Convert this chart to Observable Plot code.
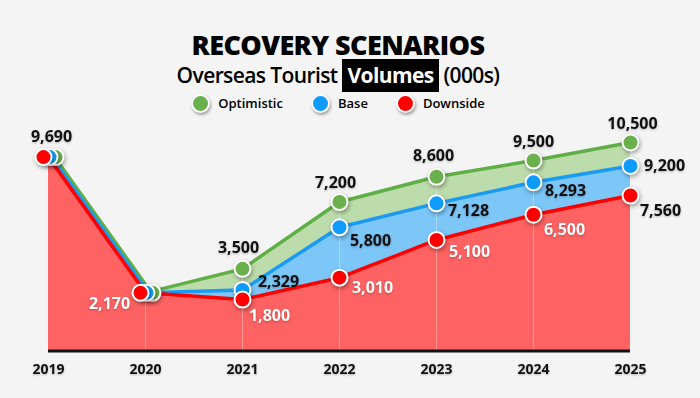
<!DOCTYPE html>
<html><head><meta charset="utf-8">
<script src="https://cdn.jsdelivr.net/npm/d3@7"></script>
<script src="https://cdn.jsdelivr.net/npm/@observablehq/plot@0.6"></script>
<style>
body{margin:0;background:#f4f4f4;font-family:"Open Sans",sans-serif;}
#wrap{width:700px;height:398px;position:relative;overflow:hidden;background:#f4f4f4;}
#header{position:relative;height:120px;}
.title{position:absolute;left:-24px;right:0;top:30px;line-height:30px;text-align:center;font-size:27px;font-weight:800;letter-spacing:-0.6px;color:#000;}
.sub{position:absolute;left:-24px;right:0;top:60px;line-height:30px;text-align:center;font-size:21px;font-weight:600;letter-spacing:-0.6px;color:#000;}
.sub .hl{background:#000;color:#fff;padding:2px 5px 3px 5px;font-weight:700;}
.legend{position:absolute;left:-24px;right:0;top:93px;height:20px;display:flex;justify-content:center;align-items:center;gap:28px;font-size:13px;font-weight:600;color:#000;}
.legend .item{display:flex;align-items:center;gap:8px;}
.legend .sw{width:15px;height:15px;border-radius:50%;border:2px solid #fff;box-shadow:1px 2px 3px rgba(0,0,0,0.35);}
svg{display:block;}
</style></head>
<body>
<div id="wrap">
  <div id="header">
    <div class="title">RECOVERY SCENARIOS</div>
    <div class="sub">Overseas Tourist <span class="hl">Volumes</span> (000s)</div>
    <div class="legend" id="legend"></div>
  </div>
  <div id="chart"></div>
</div>
<script>
// ---- data ----
const years = [2019, 2020, 2021, 2022, 2023, 2024, 2025];
const optimistic = [9690, 2170, 3500, 7200, 8600, 9500, 10500];
const base = [9690, 2170, 2329, 5800, 7128, 8293, 9200];
const downside = [9690, 2170, 1800, 3010, 5100, 6500, 7560];
const seriesNames = ["Optimistic", "Base", "Downside"];
// which values get a printed label
const optShown = [true, false, true, true, true, true, true];
const baseShown = [false, false, true, true, true, true, true];
const downShown = [false, true, true, true, true, true, true];

// ---- styling ----
const colors = {
  Optimistic: {dot: "#6ab04c", line: "#60ae46", area: "#bddcab"},
  Base: {dot: "#0e9bfb", line: "#1a9bf3", area: "#7cc6f8"},
  Downside: {dot: "#ff0000", line: "#ff0000", area: "#ff6262"}
};
const yMin = -1053;

const legend = document.getElementById("legend");
seriesNames.forEach(s => {
  const it = document.createElement("div"); it.className = "item";
  const sw = document.createElement("span"); sw.className = "sw"; sw.style.background = colors[s].dot;
  const tx = document.createElement("span"); tx.textContent = s;
  it.appendChild(sw); it.appendChild(tx); legend.appendChild(it);
});

const rows = years.map((y, i) => ({year: y, opt: optimistic[i], base: base[i], down: downside[i]}));
const first = rows.slice(0, 2);
const rest = rows.slice(1);
const restDots = rows.slice(2);

// label placement offsets (style, in code)
const optOff = {2019: [3, -20], 2021: [-4, -21], 2022: [-4, -19], 2023: [-3, -21], 2024: [0, -19], 2025: [2, -19]};
const baseOff = {2021: [36, -8], 2022: [31, 14], 2023: [32, 8], 2024: [32, 9], 2025: [34, 0]};
const downOff = {2020: [-36, 11], 2021: [27, 16], 2022: [33, 10], 2023: [33, 12], 2024: [31, 15], 2025: [30, 15]};

const labels = [];
years.forEach((y, i) => {
  if (optShown[i]) labels.push({year: y, v: optimistic[i], off: optOff[y], fill: "#111"});
  if (baseShown[i]) labels.push({year: y, v: base[i], off: baseOff[y], fill: "#111"});
  if (downShown[i]) labels.push({year: y, v: downside[i], off: downOff[y], fill: y === 2025 ? "#111" : "#fff"});
});
const fmt = d3.format(",");

function lineMarks(data, dxs) {
  return [
    Plot.lineY(data, {x: "year", y: "opt", stroke: colors.Optimistic.line, strokeWidth: 3.5, dx: dxs[0]}),
    Plot.lineY(data, {x: "year", y: "base", stroke: colors.Base.line, strokeWidth: 3.5, dx: dxs[1]}),
    Plot.lineY(data, {x: "year", y: "down", stroke: colors.Downside.line, strokeWidth: 3.5, dx: dxs[2]})
  ];
}
function dotMarks(data, dxs) {
  return [
    Plot.dot(data, {x: "year", y: "opt", r: 8, fill: colors.Optimistic.dot, stroke: "#fff", strokeWidth: 2, dx: dxs[0]}),
    Plot.dot(data, {x: "year", y: "base", r: 8, fill: colors.Base.dot, stroke: "#fff", strokeWidth: 2, dx: dxs[1]}),
    Plot.dot(data, {x: "year", y: "down", r: 8, fill: colors.Downside.dot, stroke: "#fff", strokeWidth: 2, dx: dxs[2]})
  ];
}

const labelMarks = labels.map(l => Plot.text([l], {
  x: "year", y: "v", text: d => fmt(d.v), dx: l.off[0], dy: l.off[1],
  fill: l.fill, fontSize: 16, fontWeight: 700
}));

const chart = Plot.plot({
  width: 700, height: 278,
  marginLeft: 48, marginRight: 70, marginTop: 22, marginBottom: 47.5,
  x: {domain: [2019, 2025], axis: null},
  y: {domain: [yMin, 10500], axis: null},
  style: {background: "transparent", fontFamily: "'Open Sans', sans-serif", overflow: "visible"},
  marks: [
    Plot.areaY(rows, {x: "year", y1: yMin, y2: "down", fill: colors.Downside.area}),
    Plot.areaY(rows, {x: "year", y1: "down", y2: "base", fill: colors.Base.area}),
    Plot.areaY(rows, {x: "year", y1: "base", y2: "opt", fill: colors.Optimistic.area}),
    Plot.ruleX(rows.filter(d => d.year > 2019 && d.year < 2025), {x: "year", y1: yMin, y2: "opt", stroke: "#fff", strokeOpacity: 0.35, strokeWidth: 1}),
    Plot.ruleY([yMin], {x1: 2019, x2: 2025, stroke: "#111", strokeWidth: 3}),
    ...lineMarks(rest, [0, 0, 0]),
    ...lineMarks(first, [6, 3, 0]),
    ...dotMarks(first, [7, 1, -5]),
    ...dotMarks(restDots, [0, 0, 0]),
    Plot.text(years, {x: d => d, y: yMin, dy: 19, text: d => String(d), fontSize: 14, fontWeight: 700, fill: "#111"}),
    ...labelMarks
  ]
});
document.getElementById("chart").appendChild(chart);
d3.select(chart).selectAll("g[aria-label=dot] circle").style("filter", "drop-shadow(1px 2px 2px rgba(0,0,0,0.35))");
d3.select(chart).selectAll("g[aria-label=text] text").style("filter", "drop-shadow(0px 1px 1px rgba(0,0,0,0.25))");
</script>
</body></html>
